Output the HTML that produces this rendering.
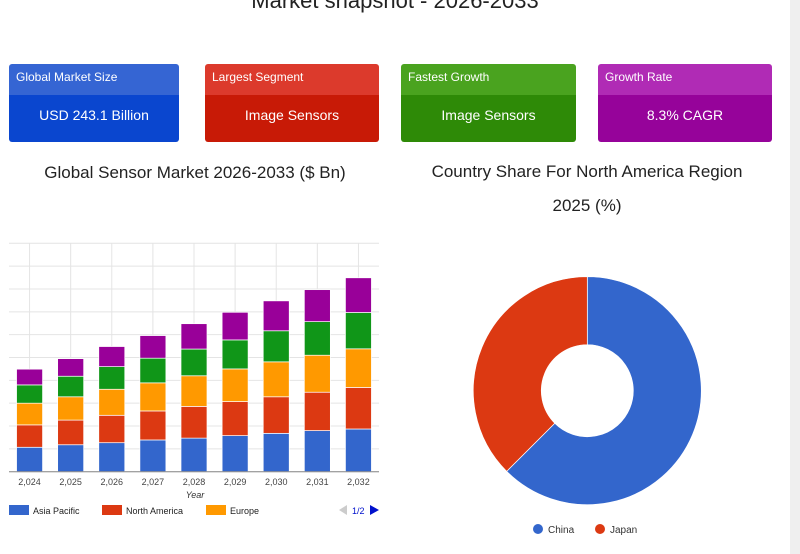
<!DOCTYPE html>
<html><head><meta charset="utf-8"><style>
body{margin:0;width:800px;height:554px;overflow:hidden;background:#fff;font-family:"Liberation Sans",sans-serif;position:relative}
.title{position:absolute;left:0;width:790px;top:-12px;text-align:center;font-size:22px;color:#222}
.card{position:absolute;top:64px;height:78px;border-radius:3px;overflow:hidden;color:#fff}
.card .h{height:31px;font-size:12px;line-height:26px;padding-left:7px}
.card .v{height:47px;text-align:center;font-size:14px;line-height:40px}
.sub{position:absolute;font-size:17px;color:#222;text-align:center}
.scroll{position:absolute;left:790px;top:0;width:10px;height:554px;background:#efefef}
</style></head><body>
<div class="title">Market snapshot - 2026-2033</div>
<div class="card" style="left:9px;width:170px"><div class="h" style="background:#3565d3">Global Market Size</div><div class="v" style="background:#0a46cf">USD 243.1 Billion</div></div>
<div class="card" style="left:205px;width:174px"><div class="h" style="background:#dc3a2c">Largest Segment</div><div class="v" style="background:#c81a06">Image Sensors</div></div>
<div class="card" style="left:401px;width:175px"><div class="h" style="background:#4aa31f">Fastest Growth</div><div class="v" style="background:#2e8a07">Image Sensors</div></div>
<div class="card" style="left:598px;width:174px"><div class="h" style="background:#b02bb5">Growth Rate</div><div class="v" style="background:#96039a">8.3% CAGR</div></div>
<div class="sub" style="left:0;width:390px;top:163px">Global Sensor Market 2026-2033 ($ Bn)</div>
<div class="sub" style="left:400px;width:374px;top:155px;line-height:34px">Country Share For North America Region<br>2025 (%)</div>
<div class="scroll"></div>
<svg id="bar" style="position:absolute;left:0;top:0" width="400" height="554"></svg>
<svg id="pie" style="position:absolute;left:400px;top:0" width="390" height="554"></svg>
<script>
const years=["2,024","2,025","2,026","2,027","2,028","2,029","2,030","2,031","2,032"];
const seriesNames=["Asia Pacific","North America","Europe","Latin America","Middle East & Africa"];
const asiaPacific=[10.7,11.8,12.7,13.9,14.7,15.8,16.8,18,18.7];
const northAmerica=[9.8,10.8,12,12.7,13.9,14.9,16,16.8,18.2];
const europe=[9.5,10.2,11.4,12.3,13.4,14.3,15.3,16.2,16.9];
const latinAmerica=[8,9,9.9,10.8,11.7,12.7,13.6,14.7,15.9];
const mea=[6.9,7.7,8.8,9.9,11.1,12.1,13.1,14,15.2];
const countries=["China","Japan"];
const shares=[62.5,37.5];
const NS="http://www.w3.org/2000/svg";
function mk(p,t,a){const e=document.createElementNS(NS,t);for(const k in a)e.setAttribute(k,a[k]);p.appendChild(e);return e;}
const bar=document.getElementById('bar');
const x0=9,x1=379,yTop=243.3,yBase=471.7,vmax=100;
const y=v=>yBase-(v/vmax)*(yBase-yTop);
const step=(x1-x0)/years.length;
const xc=i=>x0+step*(i+0.5);
for(let g=0;g<=10;g++){const l=mk(bar,'line',{x1:x0,x2:x1,y1:y(g*10),y2:y(g*10),stroke:'#e4e4e4'});

}
years.forEach((yr,i)=>{const l=mk(bar,'line',{x1:xc(i),x2:xc(i),y1:yTop,y2:yBase,stroke:'#e4e4e4'});

});
const series=[asiaPacific,northAmerica,europe,latinAmerica,mea];
const colors=["#3366cc","#dc3912","#ff9900","#109618","#990099"];
years.forEach((yr,i)=>{let acc=0;series.forEach((s,k)=>{const r=mk(bar,'rect',{x:xc(i)-13,width:26,y:y(acc+s[i]),height:y(acc)-y(acc+s[i]),fill:colors[k],stroke:'#fff','stroke-width':0.7});


acc+=s[i];});
const t=mk(bar,'text',{x:xc(i),y:485,'text-anchor':'middle','font-size':9,fill:'#444'});t.textContent=yr;

});
mk(bar,'line',{x1:x0,x2:x1,y1:yBase,y2:yBase,stroke:'#888'});
const xt=mk(bar,'text',{x:195,y:498,'text-anchor':'middle','font-size':9,'font-style':'italic',fill:'#333'});xt.textContent='Year';


const lx=[9,102,206];
[0,1,2].forEach(k=>{mk(bar,'rect',{x:lx[k],y:505,width:20,height:10,fill:colors[k]});
const t=mk(bar,'text',{x:lx[k]+24,y:514,'font-size':9,fill:'#222'});t.textContent=seriesNames[k];

});
mk(bar,'polygon',{points:'339,510 347,505 347,515',fill:'#ccc'});
const pg=mk(bar,'text',{x:352,y:514,'font-size':9,fill:'#0011cc'});pg.textContent='1/2';


const nx=mk(bar,'polygon',{points:'370,505 379,510 370,515',fill:'#0011cc'});


const pie=document.getElementById('pie');
const cx=187.3,cy=390.7,R=114,r0=46;const pc=["#3366cc","#dc3912"];
const total=shares.reduce((a,b)=>a+b,0);let a0=0;
shares.forEach((s,i)=>{const a1=a0+s/total*2*Math.PI;
const P=(a,rr)=>[cx+rr*Math.sin(a),cy-rr*Math.cos(a)];
const [ax,ay]=P(a0,R),[bx,by]=P(a1,R),[cx2,cy2]=P(a1,r0),[dx,dy]=P(a0,r0);const lg=(a1-a0)>Math.PI?1:0;
const p=mk(pie,'path',{d:`M${ax},${ay}A${R},${R} 0 ${lg} 1 ${bx},${by}L${cx2},${cy2}A${r0},${r0} 0 ${lg} 0 ${dx},${dy}Z`,fill:pc[i],stroke:'#fff','stroke-width':0.7});


a0=a1;});
const plx=[138,200];
countries.forEach((c,i)=>{mk(pie,'circle',{cx:plx[i],cy:529,r:5,fill:pc[i]});
const t=mk(pie,'text',{x:plx[i]+10,y:533,'font-size':10,fill:'#333'});t.textContent=c;

});
</script>
</body></html>
